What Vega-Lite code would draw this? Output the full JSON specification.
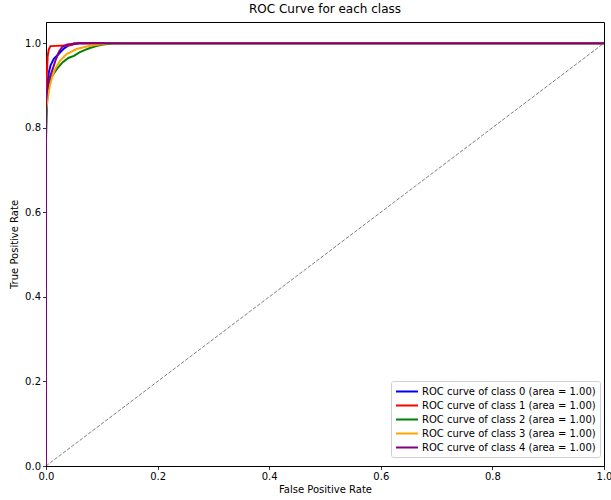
{
  "$schema": "https://vega.github.io/schema/vega-lite/v6.json",
  "width": 558,
  "height": 444,
  "autosize": "none",
  "padding": {"left": 46, "top": 22, "right": 7, "bottom": 34},
  "background": "white",
  "config": {
    "font": "DejaVu Sans",
    "view": {"stroke": "black", "strokeWidth": 1},
    "axis": {
      "labelFont": "DejaVu Sans", "titleFont": "DejaVu Sans",
      "labelFontSize": 10, "titleFontSize": 10, "titleFontWeight": "normal",
      "labelColor": "black", "titleColor": "black",
      "tickColor": "black", "domainColor": "black", "tickSize": 3.5, "tickWidth": 0.8,
      "domainWidth": 1, "grid": false, "labelPadding": 2, "labelFlush": false
    }
  },
  "title": {"text": "ROC Curve for each class", "fontSize": 12, "fontWeight": "normal", "font": "DejaVu Sans", "color": "black", "offset": 6},
  "datasets": {
    "roc": [
      {"class": "ROC curve of class 0 (area = 1.00)", "i": 0, "fpr": 0, "tpr": 0},
      {"class": "ROC curve of class 0 (area = 1.00)", "i": 1, "fpr": 0, "tpr": 0.85},
      {"class": "ROC curve of class 0 (area = 1.00)", "i": 2, "fpr": 0.002, "tpr": 0.88},
      {"class": "ROC curve of class 0 (area = 1.00)", "i": 3, "fpr": 0.003, "tpr": 0.91},
      {"class": "ROC curve of class 0 (area = 1.00)", "i": 4, "fpr": 0.005, "tpr": 0.93},
      {"class": "ROC curve of class 0 (area = 1.00)", "i": 5, "fpr": 0.008, "tpr": 0.947},
      {"class": "ROC curve of class 0 (area = 1.00)", "i": 6, "fpr": 0.014, "tpr": 0.963},
      {"class": "ROC curve of class 0 (area = 1.00)", "i": 7, "fpr": 0.023, "tpr": 0.975},
      {"class": "ROC curve of class 0 (area = 1.00)", "i": 8, "fpr": 0.032, "tpr": 0.987},
      {"class": "ROC curve of class 0 (area = 1.00)", "i": 9, "fpr": 0.041, "tpr": 0.995},
      {"class": "ROC curve of class 0 (area = 1.00)", "i": 10, "fpr": 0.06, "tpr": 1.0},
      {"class": "ROC curve of class 0 (area = 1.00)", "i": 11, "fpr": 1, "tpr": 1.0},

      {"class": "ROC curve of class 1 (area = 1.00)", "i": 0, "fpr": 0, "tpr": 0},
      {"class": "ROC curve of class 1 (area = 1.00)", "i": 1, "fpr": 0, "tpr": 0.9},
      {"class": "ROC curve of class 1 (area = 1.00)", "i": 2, "fpr": 0.002, "tpr": 0.94},
      {"class": "ROC curve of class 1 (area = 1.00)", "i": 3, "fpr": 0.003, "tpr": 0.97},
      {"class": "ROC curve of class 1 (area = 1.00)", "i": 4, "fpr": 0.005, "tpr": 0.985},
      {"class": "ROC curve of class 1 (area = 1.00)", "i": 5, "fpr": 0.008, "tpr": 0.993},
      {"class": "ROC curve of class 1 (area = 1.00)", "i": 6, "fpr": 0.045, "tpr": 0.995},
      {"class": "ROC curve of class 1 (area = 1.00)", "i": 7, "fpr": 0.05, "tpr": 1.0},
      {"class": "ROC curve of class 1 (area = 1.00)", "i": 8, "fpr": 1, "tpr": 1.0},

      {"class": "ROC curve of class 2 (area = 1.00)", "i": 0, "fpr": 0, "tpr": 0},
      {"class": "ROC curve of class 2 (area = 1.00)", "i": 1, "fpr": 0, "tpr": 0.77},
      {"class": "ROC curve of class 2 (area = 1.00)", "i": 2, "fpr": 0.002, "tpr": 0.86},
      {"class": "ROC curve of class 2 (area = 1.00)", "i": 3, "fpr": 0.004, "tpr": 0.9},
      {"class": "ROC curve of class 2 (area = 1.00)", "i": 4, "fpr": 0.01, "tpr": 0.92},
      {"class": "ROC curve of class 2 (area = 1.00)", "i": 5, "fpr": 0.02, "tpr": 0.94},
      {"class": "ROC curve of class 2 (area = 1.00)", "i": 6, "fpr": 0.03, "tpr": 0.955},
      {"class": "ROC curve of class 2 (area = 1.00)", "i": 7, "fpr": 0.04, "tpr": 0.965},
      {"class": "ROC curve of class 2 (area = 1.00)", "i": 8, "fpr": 0.05, "tpr": 0.97},
      {"class": "ROC curve of class 2 (area = 1.00)", "i": 9, "fpr": 0.06, "tpr": 0.978},
      {"class": "ROC curve of class 2 (area = 1.00)", "i": 10, "fpr": 0.07, "tpr": 0.984},
      {"class": "ROC curve of class 2 (area = 1.00)", "i": 11, "fpr": 0.08, "tpr": 0.989},
      {"class": "ROC curve of class 2 (area = 1.00)", "i": 12, "fpr": 0.09, "tpr": 0.993},
      {"class": "ROC curve of class 2 (area = 1.00)", "i": 13, "fpr": 0.1, "tpr": 0.996},
      {"class": "ROC curve of class 2 (area = 1.00)", "i": 14, "fpr": 0.12, "tpr": 1.0},
      {"class": "ROC curve of class 2 (area = 1.00)", "i": 15, "fpr": 1, "tpr": 1.0},

      {"class": "ROC curve of class 3 (area = 1.00)", "i": 0, "fpr": 0, "tpr": 0},
      {"class": "ROC curve of class 3 (area = 1.00)", "i": 1, "fpr": 0, "tpr": 0.84},
      {"class": "ROC curve of class 3 (area = 1.00)", "i": 2, "fpr": 0.003, "tpr": 0.87},
      {"class": "ROC curve of class 3 (area = 1.00)", "i": 3, "fpr": 0.007, "tpr": 0.9},
      {"class": "ROC curve of class 3 (area = 1.00)", "i": 4, "fpr": 0.011, "tpr": 0.92},
      {"class": "ROC curve of class 3 (area = 1.00)", "i": 5, "fpr": 0.016, "tpr": 0.938},
      {"class": "ROC curve of class 3 (area = 1.00)", "i": 6, "fpr": 0.025, "tpr": 0.958},
      {"class": "ROC curve of class 3 (area = 1.00)", "i": 7, "fpr": 0.037, "tpr": 0.974},
      {"class": "ROC curve of class 3 (area = 1.00)", "i": 8, "fpr": 0.055, "tpr": 0.986},
      {"class": "ROC curve of class 3 (area = 1.00)", "i": 9, "fpr": 0.079, "tpr": 0.994},
      {"class": "ROC curve of class 3 (area = 1.00)", "i": 10, "fpr": 0.108, "tpr": 0.999},
      {"class": "ROC curve of class 3 (area = 1.00)", "i": 11, "fpr": 0.134, "tpr": 1.0},
      {"class": "ROC curve of class 3 (area = 1.00)", "i": 12, "fpr": 1, "tpr": 1.0},

      {"class": "ROC curve of class 4 (area = 1.00)", "i": 0, "fpr": 0, "tpr": 0},
      {"class": "ROC curve of class 4 (area = 1.00)", "i": 1, "fpr": 0, "tpr": 0.86},
      {"class": "ROC curve of class 4 (area = 1.00)", "i": 2, "fpr": 0.002, "tpr": 0.89},
      {"class": "ROC curve of class 4 (area = 1.00)", "i": 3, "fpr": 0.005, "tpr": 0.912},
      {"class": "ROC curve of class 4 (area = 1.00)", "i": 4, "fpr": 0.011, "tpr": 0.935},
      {"class": "ROC curve of class 4 (area = 1.00)", "i": 5, "fpr": 0.017, "tpr": 0.959},
      {"class": "ROC curve of class 4 (area = 1.00)", "i": 6, "fpr": 0.023, "tpr": 0.979},
      {"class": "ROC curve of class 4 (area = 1.00)", "i": 7, "fpr": 0.029, "tpr": 0.991},
      {"class": "ROC curve of class 4 (area = 1.00)", "i": 8, "fpr": 0.038, "tpr": 0.997},
      {"class": "ROC curve of class 4 (area = 1.00)", "i": 9, "fpr": 0.06, "tpr": 1.0},
      {"class": "ROC curve of class 4 (area = 1.00)", "i": 10, "fpr": 1, "tpr": 1.0}
    ],
    "diag": [
      {"fpr": 0, "tpr": 0},
      {"fpr": 1, "tpr": 1}
    ]
  },
  "layer": [
    {
      "data": {"name": "diag"},
      "mark": {"type": "line", "color": "gray", "strokeWidth": 1, "strokeDash": [3.7, 1.6], "clip": true},
      "encoding": {
        "x": {"field": "fpr", "type": "quantitative"},
        "y": {"field": "tpr", "type": "quantitative"}
      }
    },
    {
      "data": {"name": "roc"},
      "mark": {"type": "line", "strokeWidth": 2, "interpolate": "linear", "clip": true},
      "encoding": {
        "x": {
          "field": "fpr", "type": "quantitative",
          "scale": {"domain": [0, 1], "nice": false, "zero": false},
          "axis": {"title": "False Positive Rate", "values": [0, 0.2, 0.4, 0.6, 0.8, 1.0], "format": ".1f", "titlePadding": 3}
        },
        "y": {
          "field": "tpr", "type": "quantitative",
          "scale": {"domain": [0, 1.05], "nice": false, "zero": false},
          "axis": {"title": "True Positive Rate", "values": [0, 0.2, 0.4, 0.6, 0.8, 1.0], "format": ".1f", "titlePadding": 5}
        },
        "order": {"field": "i", "type": "quantitative"},
        "color": {
          "field": "class", "type": "nominal",
          "scale": {
            "domain": ["ROC curve of class 0 (area = 1.00)", "ROC curve of class 1 (area = 1.00)", "ROC curve of class 2 (area = 1.00)", "ROC curve of class 3 (area = 1.00)", "ROC curve of class 4 (area = 1.00)"],
            "range": ["#0000ff", "#ff0000", "#008000", "#ffa500", "#800080"]
          },
          "legend": {
            "title": null,
            "orient": "none",
            "legendX": 345,
            "legendY": 359,
            "symbolType": "M-1,0H3",
            "symbolSize": 121,
            "symbolStrokeWidth": 2,
            "labelFontSize": 10,
            "labelFont": "DejaVu Sans",
            "labelColor": "black",
            "labelOffset": 14,
            "rowPadding": 2,
            "padding": 4,
            "strokeColor": "#d0d0d0",
            "fillColor": "white",
            "cornerRadius": 2,
            "labelLimit": 300
          }
        }
      }
    }
  ]
}
